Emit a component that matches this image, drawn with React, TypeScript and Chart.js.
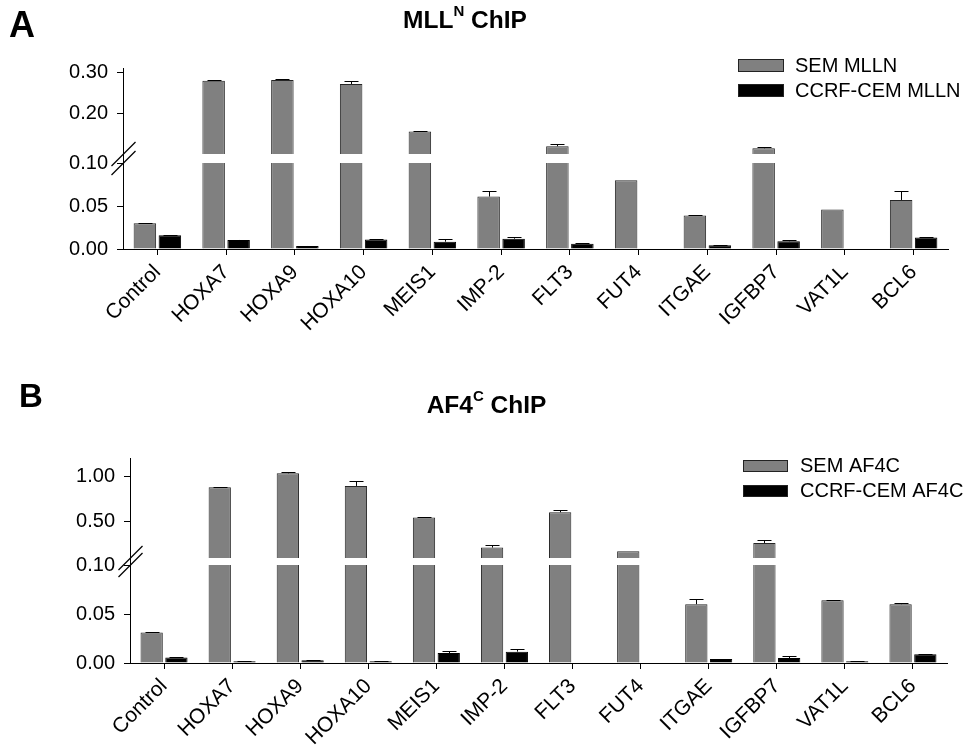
import React, { useEffect, useRef } from 'react';
import { Chart, LinearScale, registerables } from 'chart.js';

Chart.register(...registerables);

// ---------------- data ----------------
const categories = ['Control', 'HOXA7', 'HOXA9', 'HOXA10', 'MEIS1', 'IMP-2', 'FLT3', 'FUT4', 'ITGAE', 'IGFBP7', 'VAT1L', 'BCL6'];

const semMLLN = [0.030, 0.279, 0.281, 0.271, 0.155, 0.061, 0.119, 0.080, 0.039, 0.114, 0.046, 0.057];
const semMLLNErr = [0.0004, 0.001, 0.001, 0.007, 0.001, 0.007, 0.005, 0, 0.0005, 0.002, 0, 0.010];
const ccrfMLLN = [0.016, 0.0105, 0.0035, 0.011, 0.0085, 0.012, 0.006, null, 0.0045, 0.009, null, 0.0135];
const ccrfMLLNErr = [0.0004, 0.0004, 0.0004, 0.0004, 0.003, 0.0015, 0.0004, 0, 0.0004, 0.002, 0, 0.0004];

const semAF4C = [0.031, 0.886, 1.04, 0.90, 0.549, 0.216, 0.608, 0.174, 0.060, 0.267, 0.064, 0.060];
const semAF4CErr = [0.0004, 0.003, 0.012, 0.05, 0.003, 0.03, 0.025, 0, 0.005, 0.033, 0.0004, 0.0015];
const ccrfAF4C = [0.0055, 0.0017, 0.0027, 0.0017, 0.0102, 0.0116, null, null, 0.004, 0.005, 0.0017, 0.009];
const ccrfAF4CErr = [0.0003, 0.0003, 0.0003, 0.0003, 0.0018, 0.0027, 0, 0, 0.0003, 0.0025, 0.0003, 0.0003];

const ticksA = [0, 0.05, 0.1, 0.2, 0.3];
const ticksB = [0, 0.05, 0.1, 0.5, 1.0];

const FONT = '"Liberation Sans", Arial, Helvetica, sans-serif';

// ---------------- broken-axis scale ----------------
class BrokenLinearScale extends LinearScale {
  static id = 'brokenLinear';
  static defaults = { ...(LinearScale as any).defaults };

  getPixelForValue(value: any) {
    if (value === null || value === undefined || isNaN(value)) return NaN;
    const o: any = (this.options as any).brk;
    const bottom = (this as any).bottom;
    const top = (this as any).top;
    const min = (this as any).min;
    const max = (this as any).max;
    if (value <= o.at) return bottom - ((value - min) / (o.at - min)) * o.lowPx;
    const upH = bottom - top - o.lowPx - o.gapPx;
    return bottom - o.lowPx - o.gapPx - ((value - o.at) / (max - o.at)) * upH;
  }

  getValueForPixel(pixel: number) {
    const o: any = (this.options as any).brk;
    const bottom = (this as any).bottom;
    const top = (this as any).top;
    const min = (this as any).min;
    const max = (this as any).max;
    const lowTop = bottom - o.lowPx;
    if (pixel >= lowTop) return min + ((bottom - pixel) / o.lowPx) * (o.at - min);
    const upBottom = lowTop - o.gapPx;
    const upH = upBottom - top;
    return o.at + ((upBottom - pixel) / upH) * (max - o.at);
  }
}
Chart.register(BrokenLinearScale as any);

// ---------------- panel definitions ----------------
type Panel = {
  letter: string; letterSize: number; letterX: number; letterY: number;
  title: { text: string; sup?: boolean }[]; titleX: number; titleY: number; titleSize: number;
  labels: string[]; sem: (number | null)[]; semErr: number[]; ccrf: (number | null)[]; ccrfErr: number[];
  ticks: number[]; max: number; brk: { at: number; lowPx: number; gapPx: number };
  padTop: number; padRight: number; yW: number; xH: number;
  legend: { bx: number; by: number; bw: number; bh: number; tx: number; ty: number }[];
};

const panelA: Panel = {
  letter: 'A', letterSize: 36, letterX: 9, letterY: 36.5,
  title: [{ text: 'MLL' }, { text: 'N', sup: true }, { text: ' ChIP' }], titleX: 465, titleY: 28.3, titleSize: 24.5,
  labels: ['SEM MLLN', 'CCRF-CEM MLLN'], sem: semMLLN, semErr: semMLLNErr, ccrf: ccrfMLLN, ccrfErr: ccrfMLLNErr,
  ticks: ticksA, max: 0.31, brk: { at: 0.1, lowPx: 86, gapPx: 9 },
  padTop: 68, padRight: 16, yW: 123, xH: 127,
  legend: [
    { bx: 738, by: 59, bw: 46, bh: 13, tx: 795, ty: 66 },
    { bx: 738, by: 84, bw: 46, bh: 13, tx: 795, ty: 91 },
  ],
};

const panelB: Panel = {
  letter: 'B', letterSize: 33, letterX: 19, letterY: 31.3,
  title: [{ text: 'AF4' }, { text: 'C', sup: true }, { text: ' ChIP' }], titleX: 486.5, titleY: 37.3, titleSize: 24.5,
  labels: ['SEM AF4C', 'CCRF-CEM AF4C'], sem: semAF4C, semErr: semAF4CErr, ccrf: ccrfAF4C, ccrfErr: ccrfAF4CErr,
  ticks: ticksB, max: 1.21, brk: { at: 0.1, lowPx: 98, gapPx: 7 },
  padTop: 82, padRight: 17, yW: 130, xH: 89,
  legend: [
    { bx: 743, by: 84, bw: 45, bh: 12, tx: 800, ty: 90.5 },
    { bx: 743, by: 109, bw: 45, bh: 12, tx: 800, ty: 115.5 },
  ],
};

function makeDecorPlugin(p: Panel) {
  return {
    id: 'panelDecor',
    afterDatasetsDraw(chart: any) {
      const ctx = chart.ctx;
      const ys = chart.scales.y;
      const area = chart.chartArea;
      ctx.save();
      // error bars (upper only)
      chart.data.datasets.forEach((ds: any, di: number) => {
        const meta = chart.getDatasetMeta(di);
        (ds.errors || []).forEach((e: number, i: number) => {
          const v = ds.data[i];
          if (v == null || !e) return;
          const bar: any = meta.data[i];
          const x = Math.round(bar.x) + 0.5;
          const yTop = Math.round(ys.getPixelForValue(v + e)) + 0.5;
          ctx.strokeStyle = '#000';
          ctx.lineWidth = 1;
          ctx.beginPath();
          ctx.moveTo(x, bar.y);
          ctx.lineTo(x, yTop);
          ctx.moveTo(x - 7, yTop);
          ctx.lineTo(x + 7, yTop);
          ctx.stroke();
        });
      });
      // axis break gap
      const gBot = ys.bottom - p.brk.lowPx;
      const gTop = gBot - p.brk.gapPx;
      ctx.fillStyle = '#fff';
      ctx.fillRect(area.left + 1, gTop, area.right - area.left - 1, p.brk.gapPx);
      // break marks
      const ax = area.left + 0.5;
      ctx.strokeStyle = '#000';
      ctx.lineWidth = 1.2;
      [gTop, gBot].forEach((yc) => {
        ctx.beginPath();
        ctx.moveTo(ax - 12, yc + 12);
        ctx.lineTo(ax + 12, yc - 12);
        ctx.stroke();
      });
      ctx.restore();
    },
    afterDraw(chart: any) {
      const ctx = chart.ctx;
      ctx.save();
      // legend
      p.legend.forEach((it, k) => {
        const ds = chart.data.datasets[k];
        ctx.fillStyle = ds.backgroundColor;
        ctx.fillRect(it.bx, it.by, it.bw, it.bh);
        ctx.strokeStyle = '#222';
        ctx.lineWidth = 1;
        ctx.strokeRect(it.bx + 0.5, it.by + 0.5, it.bw - 1, it.bh - 1);
        ctx.fillStyle = '#000';
        ctx.font = `20px ${FONT}`;
        ctx.textBaseline = 'middle';
        ctx.textAlign = 'left';
        ctx.fillText(ds.label, it.tx, it.ty);
      });
      // title with superscript
      ctx.textBaseline = 'alphabetic';
      const mainFont = `bold ${p.titleSize}px ${FONT}`;
      const supSize = Math.round(p.titleSize * 0.62);
      const supFont = `bold ${supSize}px ${FONT}`;
      let total = 0;
      p.title.forEach((part) => {
        ctx.font = part.sup ? supFont : mainFont;
        total += ctx.measureText(part.text).width;
      });
      let x = p.titleX - total / 2;
      p.title.forEach((part) => {
        ctx.font = part.sup ? supFont : mainFont;
        const yy = part.sup ? p.titleY - p.titleSize * 0.52 : p.titleY;
        ctx.fillText(part.text, x, yy);
        x += ctx.measureText(part.text).width;
      });
      // panel letter
      ctx.font = `bold ${p.letterSize}px ${FONT}`;
      ctx.fillText(p.letter, p.letterX, p.letterY);
      ctx.restore();
    },
  };
}

function ChartPanel({ p }: { p: Panel }) {
  const ref = useRef<HTMLCanvasElement | null>(null);
  useEffect(() => {
    if (!ref.current) return;
    const axisCommon = {
      grid: { display: true, drawOnChartArea: false, drawTicks: true, tickLength: 6, color: '#000', lineWidth: 1, offset: false },
      border: { display: true, color: '#000', width: 1 },
    };
    const chart = new Chart(ref.current, {
      type: 'bar',
      data: {
        labels: categories,
        datasets: [
          { label: p.labels[0], data: p.sem, errors: p.semErr, backgroundColor: '#808080', borderColor: '#262626', borderWidth: 1 } as any,
          { label: p.labels[1], data: p.ccrf, errors: p.ccrfErr, backgroundColor: '#000000', borderColor: '#000000', borderWidth: 1 } as any,
        ],
      },
      options: {
        responsive: false,
        animation: false,
        layout: { padding: { top: p.padTop, right: p.padRight, left: 0, bottom: 0 } },
        datasets: { bar: { categoryPercentage: 0.727, barPercentage: 0.9 } },
        plugins: { legend: { display: false }, tooltip: { enabled: false }, title: { display: false } },
        scales: {
          x: {
            type: 'category',
            offset: true,
            ...axisCommon,
            ticks: { color: '#000', font: { family: FONT, size: 21 }, maxRotation: 45, minRotation: 45, autoSkip: false, padding: 5 },
            afterFit: (s: any) => { s.height = p.xH; },
          },
          y: {
            type: 'brokenLinear',
            min: 0,
            max: p.max,
            brk: p.brk,
            ...axisCommon,
            ticks: { color: '#000', font: { family: FONT, size: 20 }, padding: 9, callback: (v: any) => Number(v).toFixed(2) },
            afterBuildTicks: (s: any) => { s.ticks = p.ticks.map((v) => ({ value: v })); },
            afterFit: (s: any) => { s.width = p.yW; },
          } as any,
        },
      } as any,
      plugins: [makeDecorPlugin(p)],
    });
    return () => chart.destroy();
  }, [p]);
  return <canvas ref={ref} width={964} height={376} style={{ display: 'block' }} />;
}

export default function App() {
  return (
    <div style={{ position: 'absolute', left: 0, top: 0, width: 964, height: 752, background: '#fff' }}>
      <ChartPanel p={panelA} />
      <ChartPanel p={panelB} />
    </div>
  );
}
